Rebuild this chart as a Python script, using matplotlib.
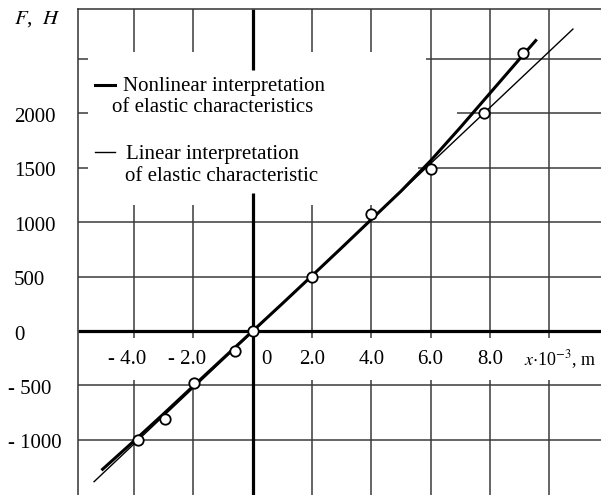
import matplotlib
matplotlib.use('Agg')
import matplotlib.pyplot as plt
import matplotlib.transforms as mtransforms
from matplotlib.lines import Line2D

plt.rcParams['font.family'] = ['Liberation Serif', 'DejaVu Serif']
plt.rcParams['mathtext.fontset'] = 'stix'

# ---------------- data ----------------
x_ticks = [-4.0, -2.0, 0.0, 2.0, 4.0, 6.0, 8.0]
x_tick_labels = ['- 4.0', '- 2.0', '0', '2.0', '4.0', '6.0', '8.0']
y_ticks = [-1000, -500, 0, 500, 1000, 1500, 2000]
y_tick_labels = ['- 1000', '- 500', '0', '500', '1000', '1500', '2000']
x_grid = [-4, -2, 2, 4, 6, 8, 10]
y_grid = [-1000, -500, 500, 1000, 1500, 2000, 2500]

exp_x = [-3.86, -2.96, -1.98, -0.6, 0.0, 2.0, 4.0, 6.0, 7.8, 9.1]
exp_F = [-1002, -812, -481, -181, 0, 494, 1073, 1490, 2006, 2552]

nonlin_x = [-5.1, -4, -3, -2, -1, 0, 1, 2, 3, 4, 5, 6, 7, 8, 9, 9.58]
nonlin_F = [-1280, -1010, -760, -505, -252, 0, 252, 508, 765, 1025, 1285,
            1565, 1870, 2185, 2500, 2680]

lin_x = [-5.35, 10.8]
lin_F = [-1385, 2775]

# ---------------- layout helpers ----------------
W, H = 601, 495
X0_PX, XS = 252.7, 29.65      # pixel of x=0, pixels per unit
Y0_PX, YS = 331.0, 0.1088     # pixel of F=0, pixels per unit


def px_x(p):
    return (p - X0_PX) / XS


def px_F(p):
    return (Y0_PX - p) / YS


fig = plt.figure(figsize=(W / 100, H / 100), dpi=100)
ax = fig.add_axes([78 / W, 0, (W - 78) / W, (H - 9) / H])
xmin, xmax = px_x(78), px_x(W)
ymin, ymax = px_F(H), px_F(9)
ax.set_xlim(xmin, xmax)
ax.set_ylim(ymin, ymax)
ax.set_xticks([])
ax.set_yticks([])
for s in ('right', 'bottom'):
    ax.spines[s].set_visible(False)
for s in ('left', 'top'):
    ax.spines[s].set_linewidth(1.1)
    ax.spines[s].set_color('#333333')

GC = '#3a3a3a'
GW = 1.1

# vertical grid
gap_hi, gap_lo = px_F(338), px_F(380)
for xv in x_grid:
    if xv in (-4, -2, 2, 4):
        segs = [(ymax, px_F(52)), (px_F(205), gap_hi), (gap_lo, ymin)]
    else:
        segs = [(ymax, gap_hi), (gap_lo, ymin)]
    for a, b in segs:
        ax.plot([xv, xv], [a, b], color=GC, lw=GW, solid_capstyle='butt', zorder=1)

# y axis (thick)
for a, b in [(ymax, px_F(70)), (px_F(193), ymin)]:
    ax.plot([0, 0], [a, b], color='black', lw=2.3, solid_capstyle='butt', zorder=2)

# horizontal grid
partial_start = {2500: px_x(426), 2000: px_x(457), 1500: px_x(418)}
for yv in y_grid:
    if yv in partial_start:
        segs = [(xmin, px_x(88)), (partial_start[yv], xmax)]
    else:
        segs = [(xmin, xmax)]
    for a, b in segs:
        ax.plot([a, b], [yv, yv], color=GC, lw=GW, solid_capstyle='butt', zorder=1)

# x axis (thick)
ax.plot([xmin, xmax], [0, 0], color='black', lw=2.3, solid_capstyle='butt', zorder=2)

# curves
ax.plot(lin_x, lin_F, color='black', lw=1.0, zorder=3)
ax.plot(nonlin_x, nonlin_F, color='black', lw=2.2, zorder=4, solid_capstyle='butt')
ax.plot(exp_x, exp_F, 'o', ms=7.5, mfc='white', mec='black', mew=1.3, zorder=5)

FS = 15
# x tick labels
ylab = px_F(360)
for xv, lab in zip(x_ticks, x_tick_labels):
    if xv < 0:
        ax.text(xv + 0.42, ylab, lab, ha='right', va='center', fontsize=FS)
    elif xv == 0:
        ax.text(0.47, ylab, lab, ha='center', va='center', fontsize=FS)
    else:
        ax.text(xv, ylab, lab, ha='center', va='center', fontsize=FS)
ax.text(px_x(524), ylab, r'$x{\cdot}$10$^{-3}$, m', ha='left', va='center',
        fontsize=13)

# y tick labels
trans = mtransforms.blended_transform_factory(fig.transFigure, ax.transData)
trans = mtransforms.offset_copy(trans, fig=fig, x=0, y=-4, units='dots')
for yv, lab in zip(y_ticks, y_tick_labels):
    xpos = 8 / W if yv < 0 else 14 / W
    ax.text(xpos, yv, lab, ha='left', va='center', fontsize=FS,
            transform=trans, clip_on=False)

fig.text(14 / W, 1 - 19 / H, r'$F$,  $H$', ha='left', va='center', fontsize=FS)

# legend
fig.add_artist(Line2D([95 / W, 115 / W], [1 - 85 / H, 1 - 85 / H],
                      color='black', lw=2.2, transform=fig.transFigure))
fig.add_artist(Line2D([95 / W, 115 / W], [1 - 152 / H, 1 - 152 / H],
                      color='black', lw=1.0, transform=fig.transFigure))
fig.text(123 / W, 1 - 86 / H, 'Nonlinear interpretation', ha='left', va='center', fontsize=FS)
fig.text(112 / W, 1 - 108 / H, 'of elastic characteristics', ha='left', va='center', fontsize=FS)
fig.text(126 / W, 1 - 154 / H, 'Linear interpretation', ha='left', va='center', fontsize=FS)
fig.text(125 / W, 1 - 176 / H, 'of elastic characteristic', ha='left', va='center', fontsize=FS)

fig.savefig('out.png', dpi=100)
